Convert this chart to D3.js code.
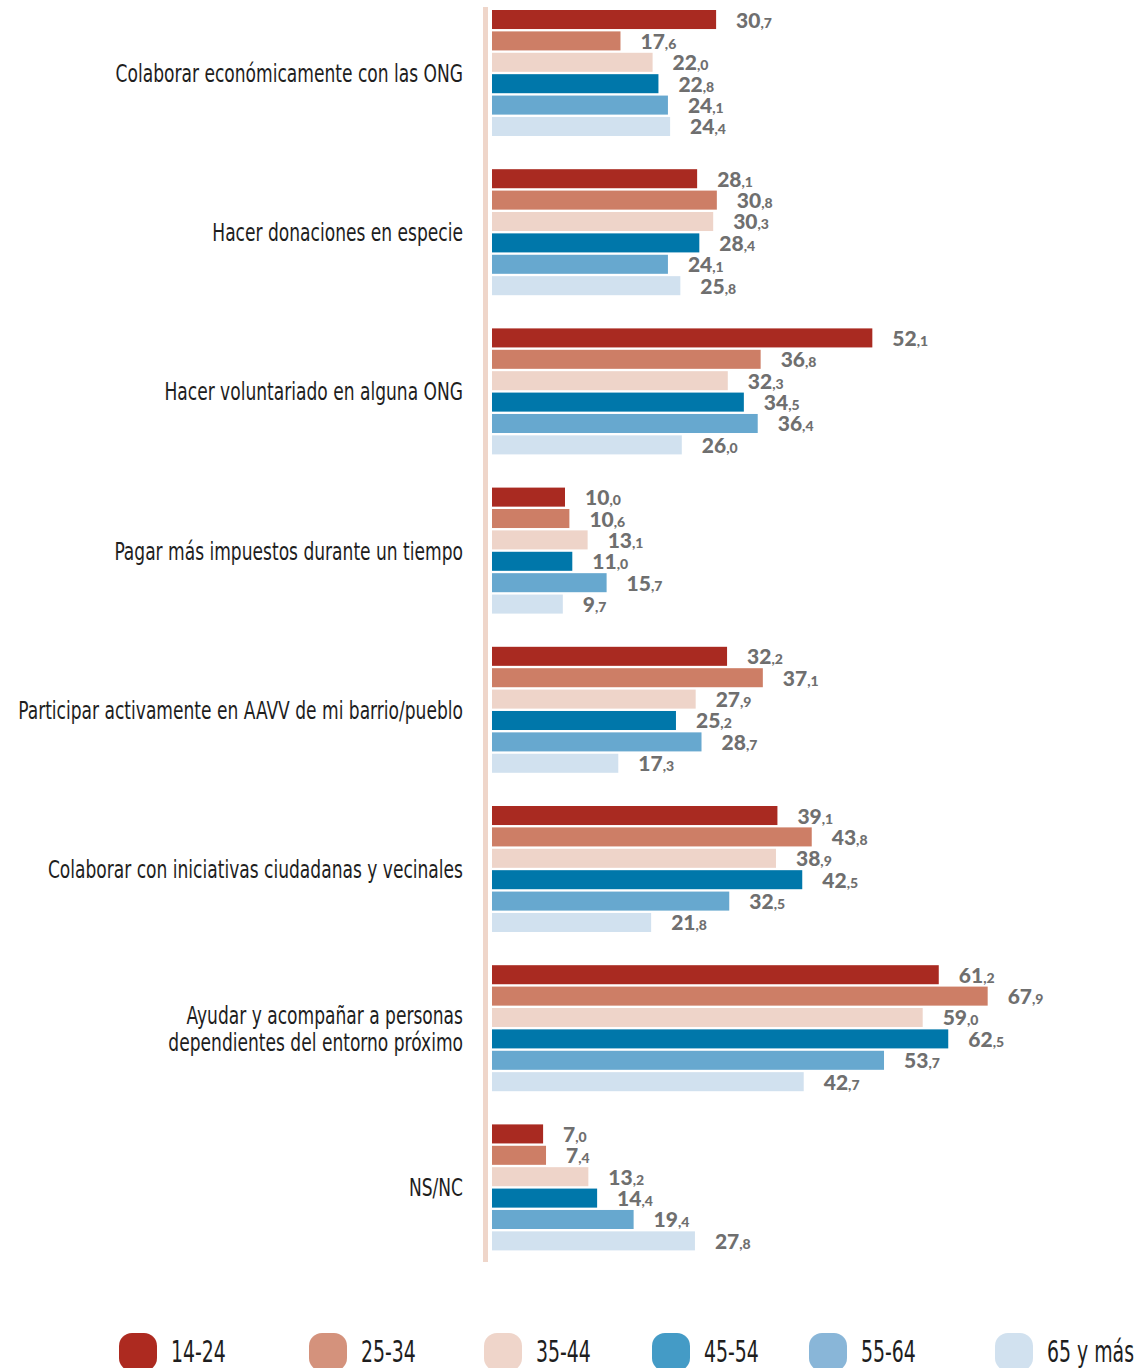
<!DOCTYPE html>
<html>
<head>
<meta charset="utf-8">
<script src="https://cdn.jsdelivr.net/npm/d3@7"></script>
<style>
  body { margin: 0; background: #fff; }
  svg { display: block; }
</style>
</head>
<body>
<svg id="chart" width="1136" height="1368"></svg>
<script>
// categories and values (%)
const categories = [
  "Colaborar económicamente con las ONG",
  "Hacer donaciones en especie",
  "Hacer voluntariado en alguna ONG",
  "Pagar más impuestos durante un tiempo",
  "Participar activamente en AAVV de mi barrio/pueblo",
  "Colaborar con iniciativas ciudadanas y vecinales",
  "Ayudar y acompañar a personas\ndependientes del entorno próximo",
  "NS/NC"
];
const ages = ["14-24", "25-34", "35-44", "45-54", "55-64", "65 y más"];
const v1424 = [30.7, 28.1, 52.1, 10.0, 32.2, 39.1, 61.2, 7.0];
const v2534 = [17.6, 30.8, 36.8, 10.6, 37.1, 43.8, 67.9, 7.4];
const v3544 = [22.0, 30.3, 32.3, 13.1, 27.9, 38.9, 59.0, 13.2];
const v4554 = [22.8, 28.4, 34.5, 11.0, 25.2, 42.5, 62.5, 14.4];
const v5564 = [24.1, 24.1, 36.4, 15.7, 28.7, 32.5, 53.7, 19.4];
const v65 = [24.4, 25.8, 26.0, 9.7, 17.3, 21.8, 42.7, 27.8];
const series = [v1424, v2534, v3544, v4554, v5564, v65];

const barColors = ["#a92a21", "#cd7e66", "#eed4c9", "#0077aa", "#67a8cf", "#d1e1ef"];
const legendColors = ["#ad2a20", "#d4927c", "#efd5ca", "#449bc6", "#89b6d8", "#d1e1ef"];

const svg = d3.select("#chart");
const condensed = "'DejaVu Sans Condensed', 'DejaVu Sans', sans-serif";

const x = d3.scaleLinear().domain([0, 70]).range([492, 492 + 70 * 7.3]);
const y0 = d3.scaleBand().domain(categories).range([10, 10 + 8 * 159.2]);
const y1 = d3.scaleBand().domain(ages).range([0, 126]).paddingInner(0.11);

// vertical axis line
svg.append("rect")
  .attr("x", 483).attr("y", 7)
  .attr("width", 5).attr("height", 1255)
  .attr("fill", "#efd6ca");

const groups = svg.selectAll("g.group")
  .data(categories)
  .join("g")
  .attr("class", "group")
  .attr("transform", d => `translate(0,${y0(d)})`);

groups.each(function(cat, ci) {
  const g = d3.select(this);
  const rows = ages.map((a, ai) => ({ age: a, ai, value: series[ai][ci] }));

  g.selectAll("rect")
    .data(rows)
    .join("rect")
    .attr("x", x(0))
    .attr("y", d => y1(d.age))
    .attr("width", d => x(d.value) - x(0))
    .attr("height", y1.bandwidth())
    .attr("fill", d => barColors[d.ai]);

  const lbl = g.selectAll("text.val")
    .data(rows)
    .join("text")
    .attr("class", "val")
    .attr("x", d => x(d.value) + 20)
    .attr("y", d => y1(d.age) + y1.bandwidth() / 2 + 8)
    .attr("fill", "#6f6f6f")
    .attr("font-family", "Lato, 'Open Sans', sans-serif")
    .attr("font-weight", 900);
  lbl.append("tspan")
    .attr("font-size", 21)
    .text(d => Math.floor(d.value));
  lbl.append("tspan")
    .attr("font-size", 14)
    .text(d => "," + Math.round((d.value % 1) * 10));

  // category label, squeezed to look like the condensed face
  const lines = cat.split("\n");
  const cy = y1.range()[1] / 2;
  g.append("g")
    .attr("transform", "translate(463,0) scale(0.76,1)")
    .append("text")
    .attr("text-anchor", "end")
    .attr("font-family", condensed)
    .attr("font-size", 25)
    .attr("fill", "#1e1e1e")
    .selectAll("tspan")
    .data(lines)
    .join("tspan")
    .attr("x", 0)
    .attr("y", (d, i) => cy + 9 + (i - (lines.length - 1) / 2) * 27)
    .text(d => d);
});

// legend
const legendX = [119, 309, 484, 652, 809, 995];
const legend = svg.selectAll("g.leg")
  .data(ages)
  .join("g")
  .attr("class", "leg")
  .attr("transform", (d, i) => `translate(${legendX[i]},1333)`);
legend.append("rect")
  .attr("width", 38).attr("height", 38)
  .attr("rx", 13)
  .attr("fill", (d, i) => legendColors[i]);
legend.append("g")
  .attr("transform", "translate(52,29) scale(0.7,1)")
  .append("text")
  .attr("font-family", condensed)
  .attr("font-size", 30)
  .attr("fill", "#1e1e1e")
  .text(d => d);
</script>
</body>
</html>
